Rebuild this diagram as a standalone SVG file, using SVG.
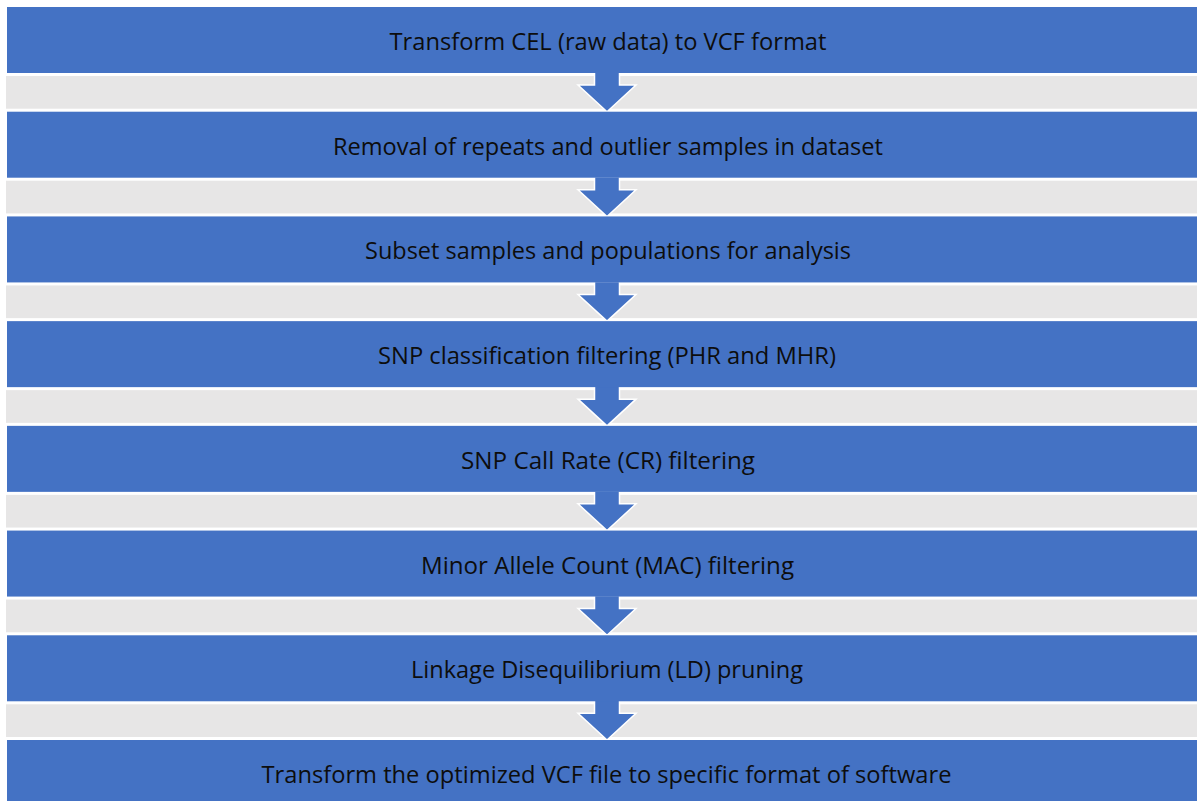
<svg xmlns="http://www.w3.org/2000/svg" width="1197" height="801" viewBox="0 0 1197 801">
<defs>
<style>
.box{fill:#4472C4;}
.band{fill:#E7E6E6;}
.arrow{fill:#4472C4;stroke:#FFFFFF;stroke-width:1.5;stroke-linejoin:miter;}
.lbl{font-family:"Open Sans","Noto Sans","DejaVu Sans",sans-serif;font-size:24px;fill:#0D0D0D;text-anchor:middle;}
</style>
</defs>
<rect x="0" y="0" width="1197" height="801" fill="#FFFFFF"/>
<g id="bands">
<rect class="band" x="6" y="76" width="1191" height="32.71"/>
<rect class="band" x="6" y="180.71" width="1191" height="32.71"/>
<rect class="band" x="6" y="285.43" width="1191" height="32.71"/>
<rect class="band" x="6" y="390.14" width="1191" height="32.71"/>
<rect class="band" x="6" y="494.86" width="1191" height="32.71"/>
<rect class="band" x="6" y="599.57" width="1191" height="32.71"/>
<rect class="band" x="6" y="704.29" width="1191" height="32.71"/>
</g>
<g id="connectors">
<polygon class="arrow" points="594.5,72 619.5,72 619.5,85 636,85 607,111.71 578,85 594.5,85"/>
<polygon class="arrow" points="594.5,176.71 619.5,176.71 619.5,189.71 636,189.71 607,216.43 578,189.71 594.5,189.71"/>
<polygon class="arrow" points="594.5,281.43 619.5,281.43 619.5,294.43 636,294.43 607,321.14 578,294.43 594.5,294.43"/>
<polygon class="arrow" points="594.5,386.14 619.5,386.14 619.5,399.14 636,399.14 607,425.86 578,399.14 594.5,399.14"/>
<polygon class="arrow" points="594.5,490.86 619.5,490.86 619.5,503.86 636,503.86 607,530.57 578,503.86 594.5,503.86"/>
<polygon class="arrow" points="594.5,595.57 619.5,595.57 619.5,608.57 636,608.57 607,635.29 578,608.57 594.5,608.57"/>
<polygon class="arrow" points="594.5,700.29 619.5,700.29 619.5,713.29 636,713.29 607,740 578,713.29 594.5,713.29"/>
</g>
<g id="n1"><rect class="box" x="7" y="7" width="1190" height="66"/><text class="lbl" x="608" y="50" textLength="437" lengthAdjust="spacingAndGlyphs">Transform CEL (raw data) to VCF format</text></g>
<g id="n2"><rect class="box" x="7" y="111.71" width="1190" height="66"/><text class="lbl" x="608" y="154.71" textLength="550" lengthAdjust="spacingAndGlyphs">Removal of repeats and outlier samples in dataset</text></g>
<g id="n3"><rect class="box" x="7" y="216.43" width="1190" height="66"/><text class="lbl" x="608" y="259.43" textLength="486" lengthAdjust="spacingAndGlyphs">Subset samples and populations for analysis</text></g>
<g id="n4"><rect class="box" x="7" y="321.14" width="1190" height="66"/><text class="lbl" x="607" y="364.14" textLength="458" lengthAdjust="spacingAndGlyphs">SNP classification filtering (PHR and MHR)</text></g>
<g id="n5"><rect class="box" x="7" y="425.86" width="1190" height="66"/><text class="lbl" x="608" y="468.86" textLength="294" lengthAdjust="spacingAndGlyphs">SNP Call Rate (CR) filtering</text></g>
<g id="n6"><rect class="box" x="7" y="530.57" width="1190" height="66"/><text class="lbl" x="607.5" y="573.57" textLength="373" lengthAdjust="spacingAndGlyphs">Minor Allele Count (MAC) filtering</text></g>
<g id="n7"><rect class="box" x="7" y="635.29" width="1190" height="66"/><text class="lbl" x="607" y="678.29" textLength="392" lengthAdjust="spacingAndGlyphs">Linkage Disequilibrium (LD) pruning</text></g>
<g id="n8"><rect class="box" x="7" y="740" width="1190" height="66"/><text class="lbl" x="606.5" y="783" textLength="690" lengthAdjust="spacingAndGlyphs">Transform the optimized VCF file to specific format of software</text></g>
</svg>
